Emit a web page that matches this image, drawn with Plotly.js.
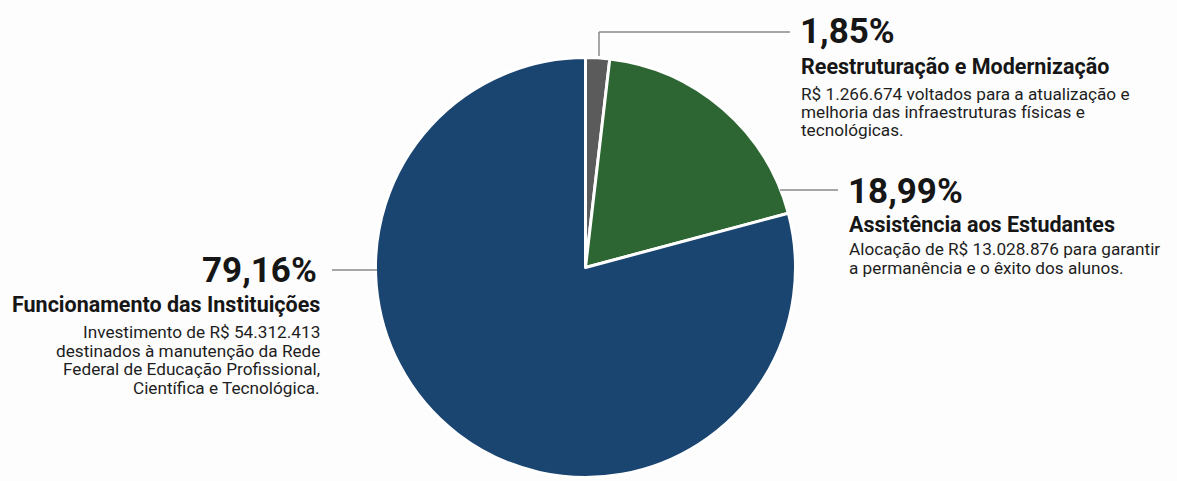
<!DOCTYPE html>
<html>
<head>
<meta charset="utf-8">
<script src="https://cdn.plot.ly/plotly-3.0.1.min.js"></script>
<style>html,body{margin:0;padding:0;background:#fdfdfd;}#chart{width:1177px;height:481px;}</style>
</head>
<body>
<div id="chart"></div>
<script>
// ---- data ----
const categories = ["Reestruturação e Modernização", "Assistência aos Estudantes", "Funcionamento das Instituições"];
const amounts = [1266674, 13028876, 54312413];
const pctLabels = ["1,85%", "18,99%", "79,16%"];
const descriptions = [
  ["R$ 1.266.674 voltados para a atualização e", "melhoria das infraestruturas físicas e", "tecnológicas."],
  ["Alocação de R$ 13.028.876 para garantir", "a permanência e o êxito dos alunos."],
  ["Investimento de R$ 54.312.413", "destinados à manutenção da Rede", "Federal de Educação Profissional,", "Científica e Tecnológica."]
];
const sliceColors = ["#5b5b5b", "#2e6633", "#1b4571"];

// ---- layout helpers (pixel -> paper) ----
const W = 1177, H = 481;
const px = x => x / W;
const py = y => 1 - y / H;

const cx = 585.5, cy = 267.5, R = 210;

const trace = {
  type: "pie",
  labels: categories,
  values: amounts,
  sort: false,
  direction: "clockwise",
  rotation: 0,
  textinfo: "none",
  hoverinfo: "label+percent",
  marker: { colors: sliceColors, line: { color: "#ffffff", width: 3 } },
  domain: { x: [px(cx - 260), px(cx + 260)], y: [py(cy + R), py(cy - R)] },
  showlegend: false
};

// text blocks: anchor x, side, y of percentage, y of title, y of first desc line
const blocks = [
  { x: 799, side: "left", yPct: 31, yTitle: 66, yDesc: 94, step: 18 },
  { x: 847, side: "left", yPct: 191, yTitle: 224, yDesc: 249.5, step: 18 },
  { x: 322, side: "right", yPct: 270, yTitle: 304, yDesc: 332, step: 18.6 }
];

const annotations = [];
const FONT = "Roboto, 'Noto Sans', sans-serif";
blocks.forEach((b, i) => {
  annotations.push({
    xref: "paper", yref: "paper", x: px(b.x + (b.side === "right" ? -3 : -1)), y: py(b.yPct),
    xanchor: b.side, yanchor: "middle", showarrow: false,
    text: "<b>" + pctLabels[i] + "</b>",
    font: { family: FONT, size: 35, color: "#161616" }
  });
  annotations.push({
    xref: "paper", yref: "paper", x: px(b.x), y: py(b.yTitle),
    xanchor: b.side, yanchor: "middle", showarrow: false,
    text: "<b>" + categories[i] + "</b>",
    font: { family: FONT, size: 21.5, color: "#161616" }
  });
  descriptions[i].forEach((line, k) => {
    annotations.push({
      xref: "paper", yref: "paper", x: px(b.x), y: py(b.yDesc + k * b.step),
      xanchor: b.side, yanchor: "middle", showarrow: false,
      text: line,
      font: { family: FONT, size: 17.2, color: "#1e1e1e" }
    });
  });
});

const lineStyle = { color: "#8a8a8a", width: 1.5 };
const seg = (x0, y0, x1, y1) => ({ type: "line", xref: "paper", yref: "paper",
  x0: px(x0), y0: py(y0), x1: px(x1), y1: py(y1), line: lineStyle });
const shapes = [
  seg(599, 56, 599, 32), seg(599, 32, 790, 32),
  seg(780, 190, 838, 190),
  seg(332, 270, 377, 270)
];

const layout = {
  width: W, height: H,
  margin: { l: 0, r: 0, t: 0, b: 0 },
  paper_bgcolor: "#fdfdfd",
  plot_bgcolor: "#fdfdfd",
  annotations: annotations,
  shapes: shapes,
  showlegend: false
};

Plotly.newPlot("chart", [trace], layout, { displayModeBar: false, staticPlot: true });
</script>
</body>
</html>
